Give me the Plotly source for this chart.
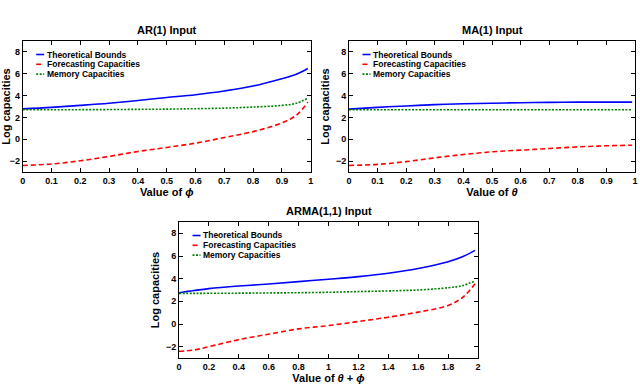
import plotly.graph_objects as go

# AR(1) input
ar_x = [0, 0.1, 0.2, 0.3, 0.4, 0.5, 0.6, 0.7, 0.8, 0.9, 0.95, 0.99]
ar_bound = [2.78, 2.92, 3.1, 3.3, 3.55, 3.82, 4.08, 4.42, 4.87, 5.55, 5.95, 6.48]
ar_forecast = [-2.4, -2.27, -1.97, -1.57, -1.12, -0.75, -0.36, 0.16, 0.7, 1.5, 2.2, 3.4]
ar_memory = [2.7, 2.7, 2.71, 2.72, 2.74, 2.76, 2.8, 2.85, 2.95, 3.1, 3.3, 3.75]

# MA(1) input
ma_x = [0, 0.1, 0.2, 0.3, 0.4, 0.5, 0.6, 0.7, 0.8, 0.9, 0.99]
ma_bound = [2.76, 2.92, 3.05, 3.17, 3.25, 3.3, 3.35, 3.38, 3.4, 3.4, 3.4]
ma_forecast = [-2.4, -2.3, -2.05, -1.7, -1.4, -1.15, -1.0, -0.85, -0.7, -0.6, -0.55]
ma_memory = [2.7, 2.7, 2.7, 2.7, 2.7, 2.7, 2.7, 2.7, 2.7, 2.7, 2.7]

# ARMA(1,1) input
arma_x = [0, 0.1, 0.2, 0.4, 0.6, 0.8, 1.0, 1.2, 1.4, 1.6, 1.8, 1.9, 1.98]
arma_bound = [2.76, 2.95, 3.12, 3.35, 3.53, 3.74, 3.95, 4.18, 4.48, 4.9, 5.5, 5.96, 6.5]
arma_forecast = [-2.41, -2.3, -2.0, -1.38, -0.9, -0.43, -0.14, 0.22, 0.6, 1.05, 1.64, 2.38, 3.56]
arma_memory = [2.7, 2.7, 2.71, 2.72, 2.74, 2.76, 2.8, 2.86, 2.92, 3.0, 3.2, 3.4, 3.8]

titles = ["AR(1) Input", "MA(1) Input", "ARMA(1,1) Input"]
x_titles = ["Value of <i>ϕ</i>", "Value of <i>θ</i>", "Value of <i>θ</i> + <i>ϕ</i>"]
series_names = ["Theoretical Bounds", "Forecasting Capacities", "Memory Capacities"]

W, H = 640, 386
FONT = "Liberation Sans, Arial, sans-serif"

# panel boxes in pixels: left, right, top, bottom
boxes = [(22.7, 310.7, 41, 172), (349, 635, 41, 172), (179, 478, 222, 358)]

panels = [
    (ar_x, ar_bound, ar_forecast, ar_memory),
    (ma_x, ma_bound, ma_forecast, ma_memory),
    (arma_x, arma_bound, arma_forecast, arma_memory),
]
styles = [
    dict(color="#0000ff", width=1.6, dash="solid"),
    dict(color="#ff0000", width=1.6, dash="5px,3px"),
    dict(color="#008000", width=1.6, dash="2px,1.5px"),
]

fig = go.Figure()
layout = dict(
    width=W, height=H, margin=dict(l=0, r=0, t=0, b=0),
    paper_bgcolor="white", plot_bgcolor="white",
    font=dict(family=FONT, size=9, color="black"),
    showlegend=False,
    annotations=[], shapes=[],
)

for i, (xs, b, f, m) in enumerate(panels):
    suf = "" if i == 0 else str(i + 1)
    for name, ys, st in zip(series_names, (b, f, m), styles):
        fig.add_trace(go.Scatter(
            x=xs, y=ys, name=name, mode="lines",
            line=dict(color=st["color"], width=st["width"], dash=st["dash"], shape="spline"),
            xaxis="x" + suf, yaxis="y" + suf,
        ))
    l, r, t, btm = boxes[i]
    xmax = 2 if i == 2 else 1
    dtick = 0.2 if i == 2 else 0.1
    layout["xaxis" + suf] = dict(
        domain=[l / W, r / W], anchor="y" + suf, range=[0, xmax], automargin=False,
        tick0=0, dtick=dtick, ticks="inside", ticklen=4, tickcolor="black",
        showline=True, linecolor="black", linewidth=1, mirror="ticks",
        showgrid=False, zeroline=False,
        tickfont=dict(size=9, weight="bold"),
        title=dict(text=x_titles[i], font=dict(size=11, weight="bold"), standoff=2),
    )
    layout["yaxis" + suf] = dict(
        domain=[1 - btm / H, 1 - t / H], anchor="x" + suf, range=[-3, 9], automargin=False,
        tickvals=[-2, 0, 2, 4, 6, 8], ticks="inside", ticklen=4, tickcolor="black",
        showline=True, linecolor="black", linewidth=1, mirror="ticks",
        showgrid=False, zeroline=False,
        tickfont=dict(size=9, weight="bold"),
        title=dict(text="Log capacities", font=dict(size=11, weight="bold"), standoff=4),
    )
    # legend drawn inside the top-left corner of each panel
    for k, (name, st) in enumerate(zip(series_names, styles)):
        yy = 1 - (t + 13.5 + k * 9.8) / H
        layout["shapes"].append(dict(
            type="line", xref="paper", yref="paper",
            x0=(l + 13.5) / W, x1=(l + 21.5) / W, y0=yy, y1=yy,
            line=dict(color=st["color"], width=1.6, dash=st["dash"]),
        ))
        layout["annotations"].append(dict(
            text="<b>%s</b>" % name, xref="paper", yref="paper",
            x=(l + 22) / W, y=yy, xanchor="left", yanchor="middle",
            showarrow=False, font=dict(size=8.5),
        ))
    layout["annotations"].append(dict(
        text="<b>%s</b>" % titles[i], xref="paper", yref="paper",
        x=(l + r) / 2 / W, y=1 - (t - 3) / H, xanchor="center", yanchor="bottom",
        showarrow=False, font=dict(size=11),
    ))

fig.update_layout(**layout)
# the page body has a default 8px margin that would push the figure off the window
fig.write_html("out.html", config={"displayModeBar": False},
               post_script="document.body.style.margin='0';")
